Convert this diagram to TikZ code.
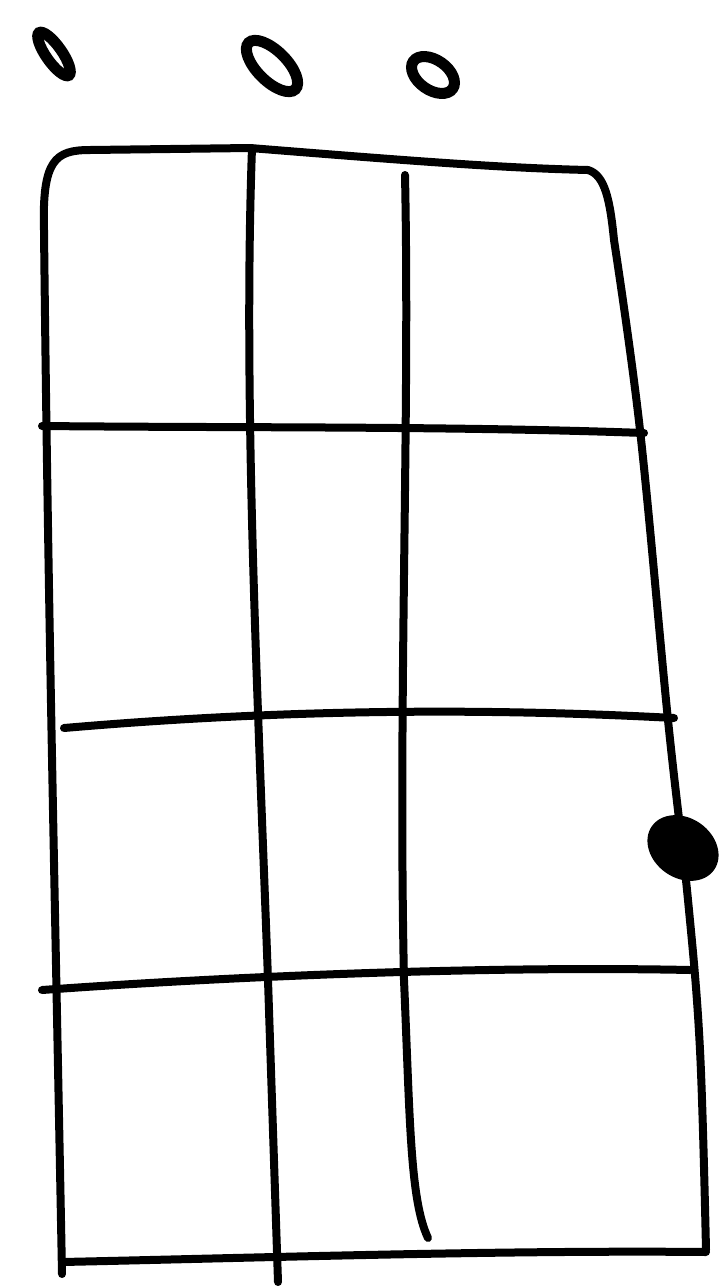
\documentclass[tikz,border=0pt]{standalone}
\tikzset{
  pen/.style={line width=4pt, line cap=round, line join=round},
  openmark/.style={line width=5.5pt},
}
\begin{document}
\begin{tikzpicture}[x=0.5pt, y=-0.5pt]
  \useasboundingbox[fill=white] (0,0) rectangle (720,1286);
  % Open strings
  \draw[openmark, rotate around={-55:(54,54)}] (54,54) ellipse (26 and 8);
  \draw[openmark, rotate around={-45:(272,66)}] (272,66) ellipse (33 and 15);
  \draw[openmark, rotate around={-35:(433,75)}] (433,75) ellipse (24 and 15);
  % Outline of the neck
  \draw[pen] (62,1274) .. controls (55,900) and (48,600) .. (44,230)
    .. controls (42,160) and (55,150) .. (90,150)
    -- (250,148) .. controls (400,160) and (500,168) .. (588,170)
    .. controls (605,175) and (610,200) .. (614,240);
  \draw[pen] plot[smooth, tension=0.6] coordinates
    {(614,240) (640,430) (668,720) (688,900) (700,1050) (706,1250)};
  % Frets
  \draw[pen] (42,426) .. controls (250,428) and (450,426) .. (644,433);
  \draw[pen] (64,728) .. controls (250,712) and (450,706) .. (674,718);
  \draw[pen] (42,990) .. controls (250,975) and (500,966) .. (690,970);
  \draw[pen] (62,1262) .. controls (250,1258) and (500,1250) .. (706,1252);
  % Strings
  \draw[pen] (252,148) .. controls (243,400) and (258,700) .. (268,980)
    -- (278,1282);
  \draw[pen] (405,175) .. controls (410,420) and (398,700) .. (404,980)
    .. controls (410,1120) and (410,1200) .. (428,1238);
  % Fretted note
  \fill[rotate around={-35:(683,848)}] (683,848) ellipse (38 and 30);
\end{tikzpicture}
\end{document}
